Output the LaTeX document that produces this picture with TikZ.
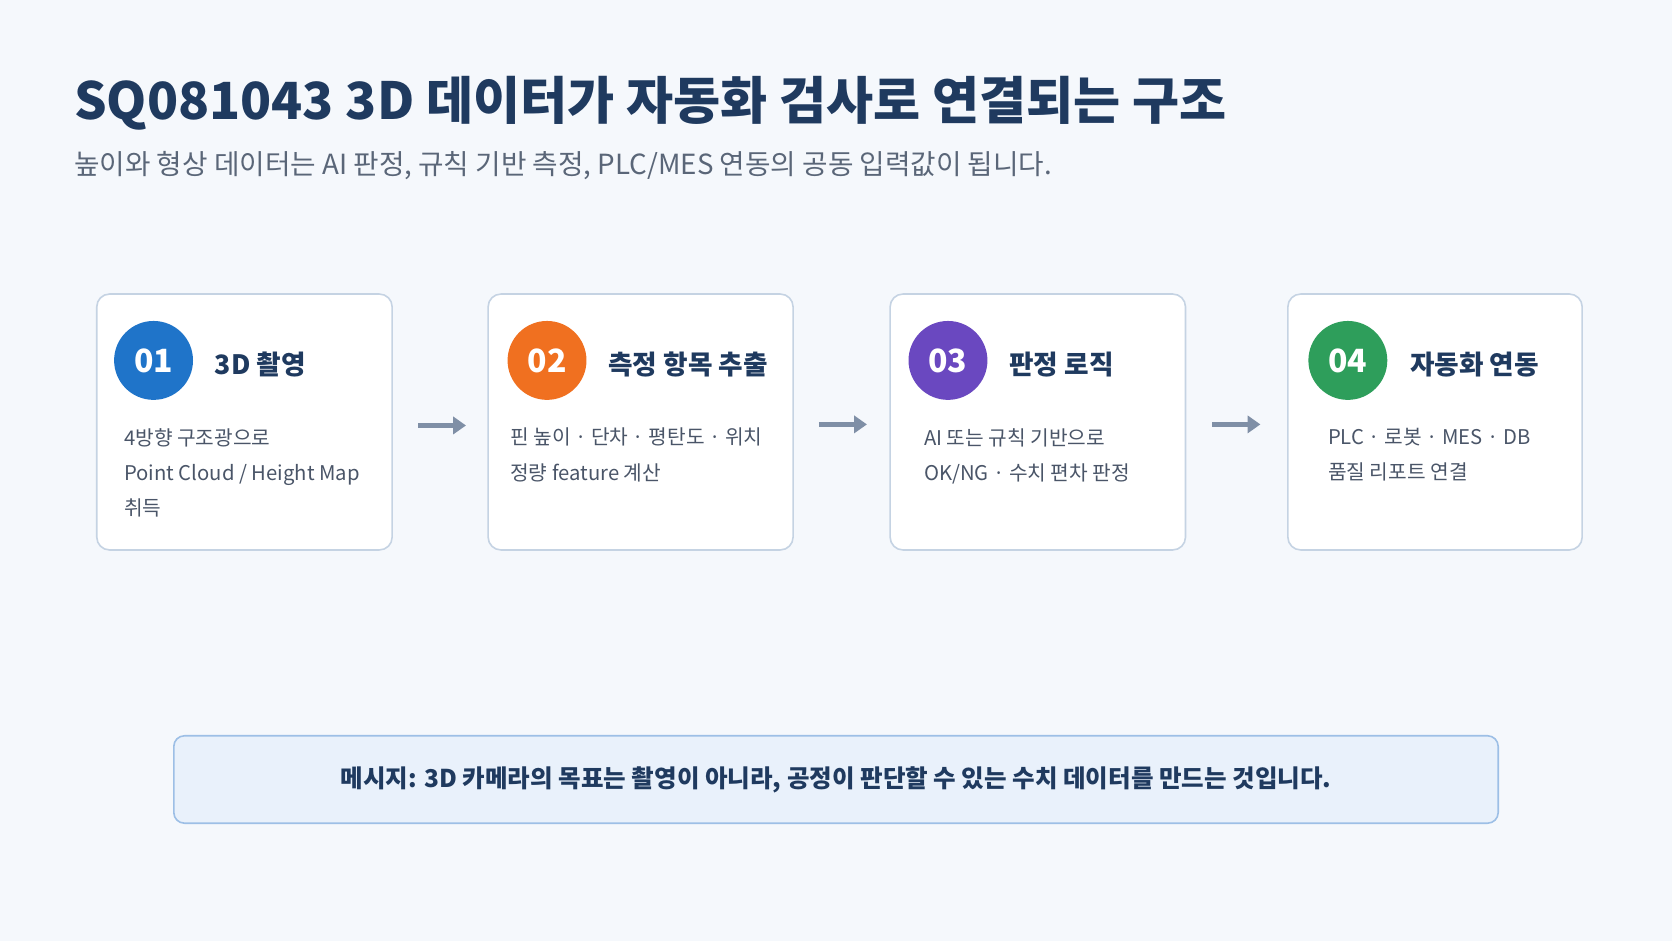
\documentclass[tikz,border=0pt]{standalone}
\usepackage{fontspec}
\setmainfont{Noto Sans CJK KR}
\usetikzlibrary{arrows.meta}
\definecolor{bg}{HTML}{F5F8FC}
\definecolor{ttl}{HTML}{1F3A5F}
\definecolor{sub}{HTML}{5A6678}
\definecolor{body}{HTML}{4A5568}
\definecolor{cbd}{HTML}{C5D3E3}
\definecolor{c1}{HTML}{1F74C9}
\definecolor{c2}{HTML}{F07020}
\definecolor{c3}{HTML}{6A48C0}
\definecolor{c4}{HTML}{2E9E5B}
\definecolor{arr}{HTML}{7F8FA6}
\definecolor{mbg}{HTML}{E9F1FB}
\definecolor{mbd}{HTML}{9DBFE6}
\tikzset{
 card/.style={draw=cbd,line width=1.5pt,fill=white,rounded corners=12pt,minimum width=#1,minimum height=240pt,inner sep=0,anchor=north west},
 num/.style={circle,fill=#1,minimum size=74pt,inner sep=0,text=white,font=\fontsize{30}{30}\selectfont\bfseries},
 htxt/.style={anchor=west,text=ttl,font=\fontsize{25}{25}\selectfont\bfseries},
 btxt/.style={anchor=north west,align=left,text=body,font=\fontsize{19}{33}\selectfont},
 flow/.style={draw=arr,line width=4pt,-{Triangle[length=12pt,width=16pt]}}
}
\begin{document}
\begin{tikzpicture}[x=1pt,y=-1pt]
\fill[bg] (0,0) rectangle (1568,882);
\useasboundingbox (0,0) rectangle (1568,882);
\node[anchor=west,text=ttl,font=\fontsize{48}{48}\selectfont\bfseries] (title) at (66,97) {SQ081043 3D 데이터가 자동화 검사로 연결되는 구조};
\node[anchor=west,text=sub,font=\fontsize{26}{26}\selectfont] (subt) at (66,155) {높이와 형상 데이터는 AI 판정, 규칙 기반 측정, PLC/MES 연동의 공동 입력값이 됩니다.};

\node[card=277pt] (k1) at (90,275) {};
\node[card=286pt] (k2) at (457,275) {};
\node[card=277pt] (k3) at (834,275) {};
\node[card=276pt] (k4) at (1207,275) {};

\node[num=c1] (n1) at (144,338) {01};
\node[num=c2] (n2) at (513,338) {02};
\node[num=c3] (n3) at (889,338) {03};
\node[num=c4] (n4) at (1264,338) {04};

\node[htxt] (h1) at (198,342) {3D 촬영};
\node[htxt] (h2) at (567,342) {측정 항목 추출};
\node[htxt] (h3) at (943,342) {판정 로직};
\node[htxt] (h4) at (1319,342) {자동화 연동};

\node[btxt] (b1) at (113,398) {4방향 구조광으로\\Point Cloud / Height Map\\취득};
\node[btxt] (b2) at (475,398) {핀 높이 · 단차 · 평탄도 · 위치\\정량 feature 계산};
\node[btxt] (b3) at (863,398) {AI 또는 규칙 기반으로\\OK/NG · 수치 편차 판정};
\node[btxt] (b4) at (1242,398) {PLC · 로봇 · MES · DB\\품질 리포트 연결};

\coordinate (a1s) at (392,399); \coordinate (a1e) at (437,399);
\coordinate (a2s) at (768,398); \coordinate (a2e) at (813,398);
\coordinate (a3s) at (1137,398); \coordinate (a3e) at (1182,398);
\draw[flow] (a1s) -- (a1e);
\draw[flow] (a2s) -- (a2e);
\draw[flow] (a3s) -- (a3e);

\node[draw=mbd,line width=1.5pt,fill=mbg,rounded corners=10pt,minimum width=1242pt,minimum height=82pt,text=ttl,font=\fontsize{23}{23}\selectfont\bfseries] (msg) at (784,731) {메시지: 3D 카메라의 목표는 촬영이 아니라, 공정이 판단할 수 있는 수치 데이터를 만드는 것입니다.};
\end{tikzpicture}
\end{document}
